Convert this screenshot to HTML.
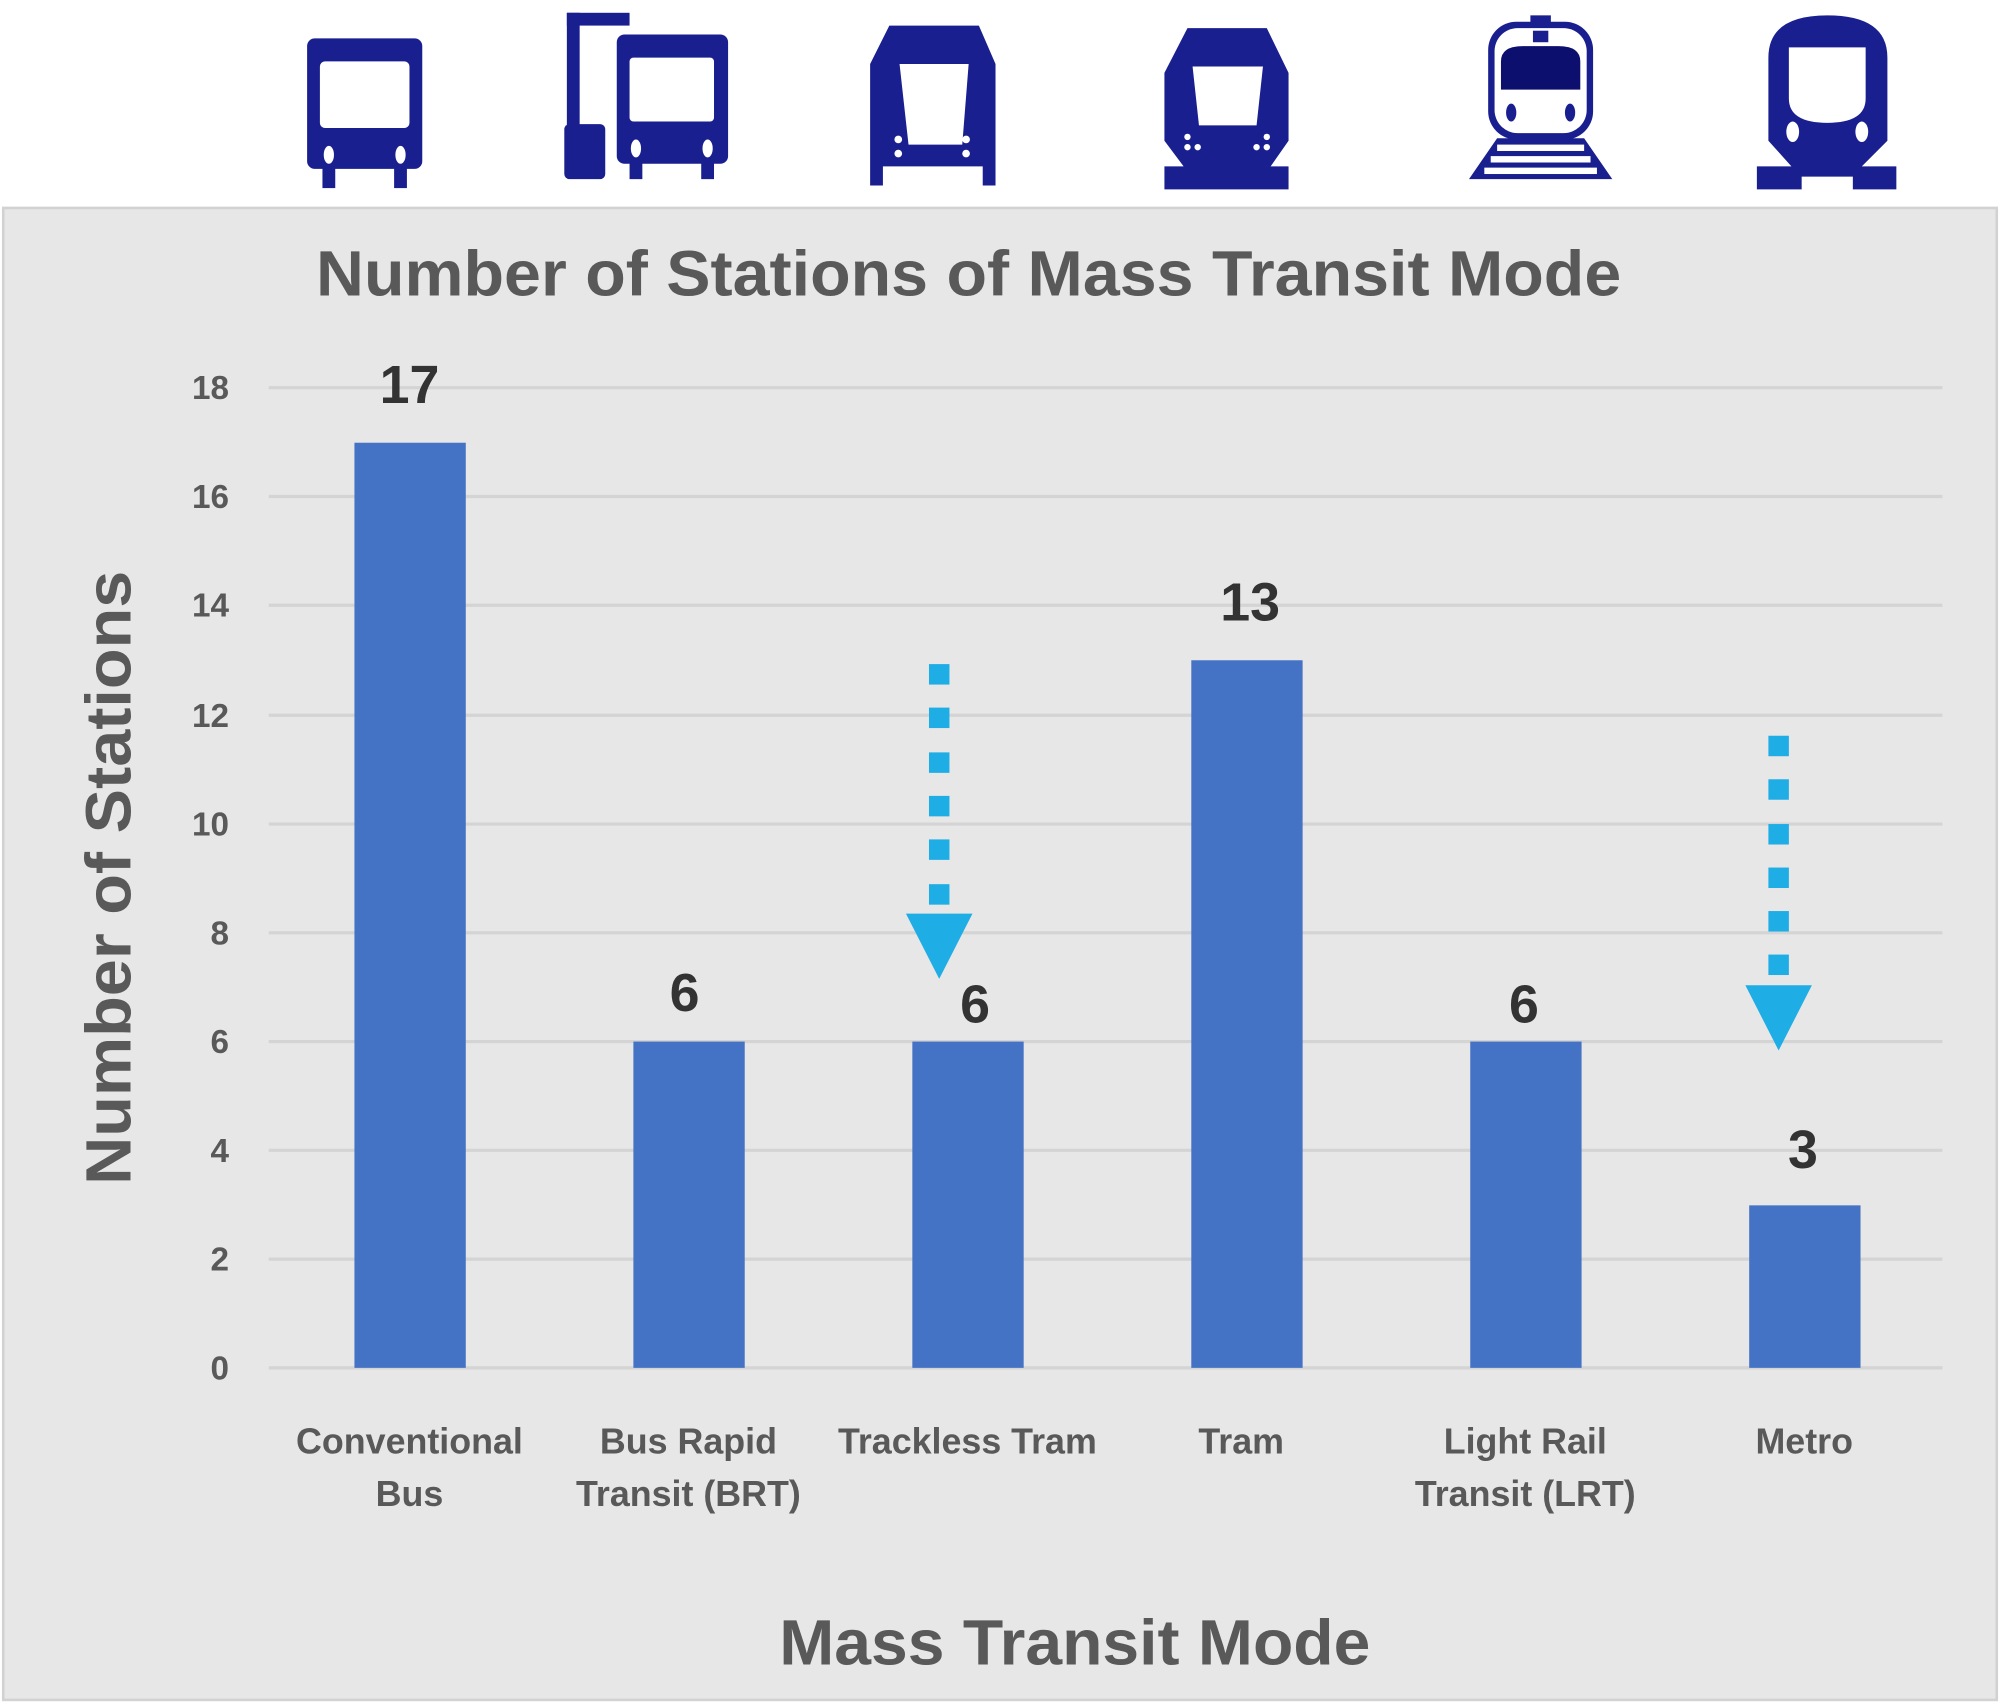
<!DOCTYPE html>
<html><head><meta charset="utf-8"><style>
html,body{margin:0;padding:0;background:#fff;}
svg{display:block;}
text{font-family:"Liberation Sans",sans-serif;font-weight:bold;}
</style></head><body>
<svg width="2000" height="1704" viewBox="0 0 1563 1331.7" preserveAspectRatio="none" xmlns="http://www.w3.org/2000/svg">
<rect x="0" y="0" width="1563" height="1332" fill="#fff"/>
<!-- icons -->
<g fill="#1a1f8f">
 <!-- bus -->
 <rect x="240" y="30" width="90" height="102" rx="6"/>
 <rect x="250" y="48" width="70" height="52" rx="4" fill="#fff"/>
 <ellipse cx="257" cy="121" rx="4" ry="7" fill="#fff"/><ellipse cx="313" cy="121" rx="4" ry="7" fill="#fff"/>
 <rect x="252" y="130" width="10" height="17"/><rect x="308" y="130" width="10" height="17"/>
 <!-- brt -->
 <rect x="443" y="10" width="49" height="10"/><rect x="443" y="10" width="10" height="90"/>
 <rect x="441" y="97" width="32" height="43" rx="4"/>
 <rect x="482" y="27" width="87" height="101" rx="6"/>
 <rect x="492" y="45" width="66" height="50" rx="3" fill="#fff"/>
 <ellipse cx="497" cy="116" rx="4" ry="7" fill="#fff"/><ellipse cx="553" cy="116" rx="4" ry="7" fill="#fff"/>
 <rect x="492" y="126" width="10" height="14"/><rect x="548" y="126" width="10" height="14"/>
 <!-- trackless tram -->
 <path d="M695 20 L765 20 L778 50 L778 145 L768 145 L768 130 L690 130 L690 145 L680 145 L680 50 Z"/>
 <path d="M703 50 L757 50 L752 113 L710 113 Z" fill="#fff"/>
 <circle cx="702" cy="109" r="3" fill="#fff"/><circle cx="702" cy="120" r="3" fill="#fff"/>
 <circle cx="755" cy="109" r="3" fill="#fff"/><circle cx="755" cy="120" r="3" fill="#fff"/>
 <!-- tram -->
 <path d="M928 22 L990 22 L1007 57 L1007 110 L993 130 L1007 130 L1007 148 L910 148 L910 130 L925 130 L910 110 L910 57 Z"/>
 <path d="M932 52 L987 52 L982 98 L937 98 Z" fill="#fff"/>
 <circle cx="928" cy="107" r="2.5" fill="#fff"/><circle cx="928" cy="115" r="2.5" fill="#fff"/><circle cx="936" cy="115" r="2.5" fill="#fff"/>
 <circle cx="990" cy="107" r="2.5" fill="#fff"/><circle cx="990" cy="115" r="2.5" fill="#fff"/><circle cx="982" cy="115" r="2.5" fill="#fff"/>
 <!-- LRT -->
 <rect x="1196" y="12" width="16" height="6"/>
 <rect x="1163" y="17" width="82" height="92" rx="22"/>
 <rect x="1168" y="22" width="72" height="82" rx="18" fill="#fff"/>
 <path d="M1173 48 Q1173 36 1190 36 L1218 36 Q1235 36 1235 48 L1235 70 L1173 70 Z" fill="#0d0f6e"/>
 <rect x="1198" y="24" width="12" height="9"/>
 <ellipse cx="1181" cy="88" rx="4" ry="7"/><ellipse cx="1227" cy="88" rx="4" ry="7"/>
 <path d="M1170 108 L1238 108 L1260 140 L1148 140 Z"/>
 <rect x="1170" y="113" width="68" height="5" fill="#fff"/><rect x="1165" y="122" width="78" height="5" fill="#fff"/><rect x="1160" y="131" width="88" height="5" fill="#fff"/>
 <!-- metro -->
 <path d="M1382 45 Q1382 12 1428 12 Q1475 12 1475 45 L1475 110 L1455 130 L1482 130 L1482 148 L1448 148 L1448 138 L1408 138 L1408 148 L1373 148 L1373 130 L1400 130 L1382 110 Z"/>
 <path d="M1398 37 L1458 37 L1458 77 Q1458 96 1428 96 Q1398 96 1398 77 Z" fill="#fff"/>
 <ellipse cx="1401" cy="103" rx="5" ry="8" fill="#fff"/><ellipse cx="1455" cy="103" rx="5" ry="8" fill="#fff"/>
</g>
<!-- panel -->
<rect x="2.5" y="162.5" width="1558" height="1166" fill="#e7e7e7" stroke="#d2d2d2" stroke-width="2"/>
<text x="757" y="231" font-size="50" fill="#595959" text-anchor="middle" textLength="1020" lengthAdjust="spacingAndGlyphs">Number of Stations of Mass Transit Mode</text>
<!-- gridlines -->
<g stroke="#d4d4d4" stroke-width="2.5">
 <line x1="210" x2="1518" y1="303" y2="303"/><line x1="210" x2="1518" y1="388" y2="388"/>
 <line x1="210" x2="1518" y1="473" y2="473"/><line x1="210" x2="1518" y1="559" y2="559"/>
 <line x1="210" x2="1518" y1="644" y2="644"/><line x1="210" x2="1518" y1="729" y2="729"/>
 <line x1="210" x2="1518" y1="814" y2="814"/><line x1="210" x2="1518" y1="899" y2="899"/>
 <line x1="210" x2="1518" y1="984" y2="984"/><line x1="210" x2="1518" y1="1069" y2="1069"/>
</g>
<g font-size="26" fill="#595959" text-anchor="end">
 <text x="179" y="312">18</text><text x="179" y="397">16</text><text x="179" y="482">14</text>
 <text x="179" y="568">12</text><text x="179" y="653">10</text><text x="179" y="738">8</text>
 <text x="179" y="823">6</text><text x="179" y="908">4</text><text x="179" y="993">2</text><text x="179" y="1078">0</text>
</g>
<text transform="translate(102,686) rotate(-90)" font-size="50" fill="#595959" text-anchor="middle" textLength="480" lengthAdjust="spacingAndGlyphs">Number of Stations</text>
<!-- bars -->
<g fill="#4472c4">
 <rect x="277" y="346" width="87" height="723"/>
 <rect x="495" y="814" width="87" height="255"/>
 <rect x="713" y="814" width="87" height="255"/>
 <rect x="931" y="516" width="87" height="553"/>
 <rect x="1149" y="814" width="87" height="255"/>
 <rect x="1367" y="942" width="87" height="127"/>
</g>
<g font-size="42" fill="#333" text-anchor="middle">
 <text x="320" y="315">17</text><text x="535" y="790">6</text><text x="762" y="799">6</text>
 <text x="977" y="485">13</text><text x="1191" y="799">6</text><text x="1409" y="913">3</text>
</g>
<!-- arrows -->
<g fill="#1fade6">
 <rect x="726" y="519" width="16" height="16"/><rect x="726" y="553" width="16" height="16"/><rect x="726" y="588" width="16" height="16"/>
 <rect x="726" y="622" width="16" height="16"/><rect x="726" y="656" width="16" height="16"/><rect x="726" y="691" width="16" height="16"/>
 <path d="M708 714 L760 714 L734 765 Z"/>
 <rect x="1382" y="575" width="16" height="16"/><rect x="1382" y="609" width="16" height="16"/><rect x="1382" y="644" width="16" height="16"/>
 <rect x="1382" y="678" width="16" height="16"/><rect x="1382" y="712" width="16" height="16"/><rect x="1382" y="746" width="16" height="16"/>
 <path d="M1364 770 L1416 770 L1390 821 Z"/>
</g>
<g font-size="28" fill="#595959" text-anchor="middle">
 <text x="320" y="1136">Conventional</text><text x="320" y="1177">Bus</text>
 <text x="538" y="1136">Bus Rapid</text><text x="538" y="1177">Transit (BRT)</text>
 <text x="756" y="1136">Trackless Tram</text>
 <text x="970" y="1136">Tram</text>
 <text x="1192" y="1136">Light Rail</text><text x="1192" y="1177">Transit (LRT)</text>
 <text x="1410" y="1136">Metro</text>
</g>
<text x="840" y="1301" font-size="50" fill="#595959" text-anchor="middle" textLength="462" lengthAdjust="spacingAndGlyphs">Mass Transit Mode</text>
</svg>
</body></html>
